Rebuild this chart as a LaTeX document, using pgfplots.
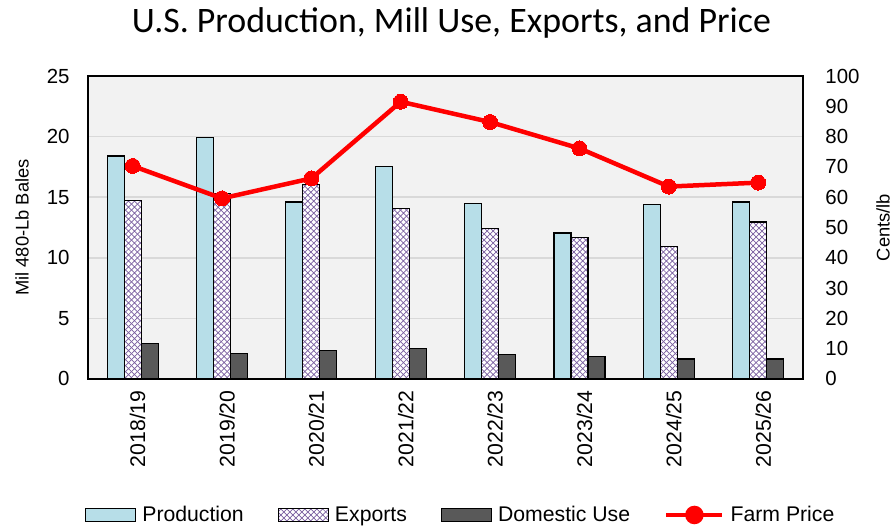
\documentclass[border=0pt]{standalone}
\usepackage{pgfplots}
\pgfplotsset{compat=1.18}
\usetikzlibrary{patterns}
\usepackage{fontspec}
\setmainfont{Liberation Sans}
\newfontfamily\titlefont{Carlito}
\definecolor{prodblue}{HTML}{B7DEE8}
\definecolor{domgray}{HTML}{595959}
\definecolor{hatchpurple}{HTML}{7A5FA0}
\definecolor{bggray}{HTML}{F2F2F2}
\definecolor{gridgray}{HTML}{D9D9D9}
\pgfdeclarepatternformonly{diagcross}{\pgfqpoint{-1pt}{-1pt}}{\pgfqpoint{7pt}{7pt}}{\pgfqpoint{6pt}{6pt}}{%
  \pgfsetlinewidth{0.7pt}%
  \pgfpathmoveto{\pgfqpoint{0pt}{0pt}}\pgfpathlineto{\pgfqpoint{6pt}{6pt}}%
  \pgfpathmoveto{\pgfqpoint{0pt}{6pt}}\pgfpathlineto{\pgfqpoint{6pt}{0pt}}%
  \pgfusepath{stroke}}
\begin{document}
\begin{tikzpicture}
\pgfplotsset{
  base/.style={
    scale only axis, width=715bp, height=303bp,
    xmin=-0.5, xmax=7.5,
    major tick length=0pt,
    /pgf/number format/assume math mode=true,
    tick label style={font=\fontsize{20.5}{22}\selectfont},
    axis line style={line width=1.3bp},
  }
}
\begin{axis}[base, name=main,
  ymin=0, ymax=25, ytick={0,5,...,25},
  xtick={0,...,7},
  xticklabels={2018/19,2019/20,2020/21,2021/22,2022/23,2023/24,2024/25,2025/26},
  x tick label style={rotate=90, anchor=east, xshift=-8bp, yshift=-5bp, font=\fontsize{21.3}{23}\selectfont},
  yticklabel style={xshift=-15bp},
  axis background/.style={fill=bggray},
  ymajorgrids, grid style={gridgray, line width=1.5bp},
  ylabel={Mil 480-Lb Bales},
  every axis y label/.style={at={(axis description cs:-0.0923,0.5)}, rotate=90, anchor=center, font=\fontsize{18.4}{20}\selectfont},
  ybar=0pt, bar width=17bp,
]
\addplot[fill=prodblue, draw=black, line width=1.2bp] coordinates {
(0,18.4) (1,19.9) (2,14.6) (3,17.5) (4,14.45) (5,12.05) (6,14.4) (7,14.6)};
\addplot[fill=white, draw=black, line width=1.2bp, postaction={pattern=diagcross, pattern color=hatchpurple}] coordinates {
(0,14.7) (1,15.3) (2,16.05) (3,14.05) (4,12.4) (5,11.7) (6,10.95) (7,12.95)};
\addplot[fill=domgray, draw=black, line width=1.2bp] coordinates {
(0,2.95) (1,2.12) (2,2.35) (3,2.5) (4,2.0) (5,1.82) (6,1.65) (7,1.65)};
\end{axis}
\begin{axis}[base,
  ymin=0, ymax=100, ytick={0,10,...,100},
  axis y line*=right, axis x line=none,
  yticklabel style={xshift=19bp},
  ylabel={Cents/lb},
  every axis y label/.style={at={(axis description cs:1.112,0.5)}, rotate=90, anchor=center, font=\fontsize{18.4}{20}\selectfont},
  legend columns=4,
  legend style={at={(axis description cs:-0.0042,-0.449)}, anchor=west, draw=none, fill=none,
    inner xsep=0pt, inner ysep=0pt,
    nodes={inner sep=0pt},
    font=\fontsize{21.3}{23}\selectfont,
    /tikz/every odd column/.append style={column sep=6bp},
    /tikz/every even column/.append style={column sep=34bp}},
]
\addlegendimage{legend image code/.code={\draw[fill=prodblue,draw=black,line width=1.2bp] (0bp,-6.5bp) rectangle (50bp,6.5bp);}}
\addlegendentry{Production}
\addlegendimage{legend image code/.code={\draw[fill=white,draw=black,line width=1.2bp,postaction={pattern=diagcross, pattern color=hatchpurple}] (0bp,-6.5bp) rectangle (50bp,6.5bp);}}
\addlegendentry{Exports}
\addlegendimage{legend image code/.code={\draw[fill=domgray,draw=black,line width=1.2bp] (0bp,-6.5bp) rectangle (50bp,6.5bp);}}
\addlegendentry{Domestic Use}
\addplot[red, line width=4.5bp, mark=*, mark size=7.5bp, mark options={fill=red, draw=red, line width=0pt},
  legend image code/.code={\draw[red,line width=4.5bp] (0bp,0bp) -- (56bp,0bp); \fill[red] (28bp,0bp) circle (7bp);}]
 coordinates {(0,70.3) (1,59.6) (2,66.2) (3,91.5) (4,84.8) (5,76.1) (6,63.5) (7,64.8)};
\addlegendentry{Farm Price}
\end{axis}
\node[anchor=base, font=\titlefont\fontsize{36}{40}\selectfont] at ([xshift=6bp, yshift=43bp]main.north) {U.S. Production, Mill Use, Exports, and Price};
\path (main.south west) ++(-88bp,-148bp) rectangle ++(893bp,527bp);
\end{tikzpicture}
\end{document}
